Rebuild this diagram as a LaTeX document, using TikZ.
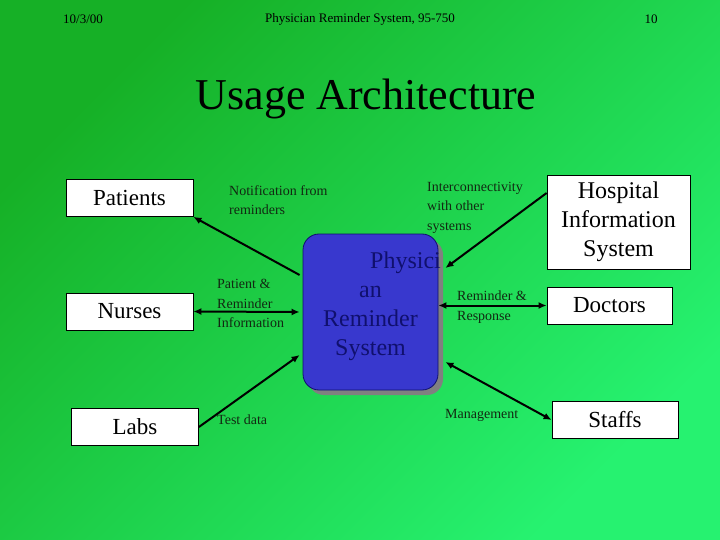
\documentclass[tikz,border=0pt]{standalone}
\usepackage{fontspec}
\setmainfont{Liberation Serif}
\usetikzlibrary{arrows.meta,positioning,shadows}
\definecolor{BgDark}{RGB}{22,176,38}
\definecolor{BgLight}{RGB}{38,242,112}
\definecolor{CoreBlue}{RGB}{56,56,206}
\definecolor{CoreText}{RGB}{16,16,110}
\definecolor{LabelInk}{RGB}{18,40,18}
\tikzset{
  actor/.style={draw=black,fill=white,line width=0.8pt,minimum width=127pt,
    minimum height=37pt,align=center,inner sep=2pt,
    font=\fontsize{23}{28}\selectfont},
  core/.style={draw=CoreText,fill=CoreBlue,line width=0.8pt,rounded corners=16pt,
    minimum width=135pt,minimum height=156pt,
    drop shadow={shadow xshift=5pt,shadow yshift=-5pt,fill=gray,opacity=1}},
  coretext/.style={align=center,text=CoreText,font=\fontsize{24}{29}\selectfont},
  note/.style={anchor=north west,align=left,inner sep=0pt,text=LabelInk,
    font=\fontsize{14}{19.5}\selectfont},
  link/.style={-{Latex[length=8pt,width=7pt]},line width=2pt},
  both/.style={{Latex[length=8pt,width=7pt]}-{Latex[length=8pt,width=7pt]},line width=2pt}
}

\begin{document}
\begin{tikzpicture}[x=1pt,y=-1pt]

% Background
\shade[top color=BgDark,bottom color=BgLight,shading angle=45]
  (0,0) rectangle (720,540);
\useasboundingbox (0,0) rectangle (720,540);

% Header
\node[font=\fontsize{13}{15}\selectfont] (date) at (83,19) {10/3/00};
\node[font=\fontsize{13}{15}\selectfont] (head) at (360,19) {Physician Reminder System, 95-750};
\node[font=\fontsize{13}{15}\selectfont] (page) at (651,19) {10};

% Title
\node[font=\fontsize{44}{50}\selectfont] (title) at (366,99) {Usage Architecture};

% Core system
\node[core] (sys) at (370.5,312) {};
\node[coretext] (systext) at ([yshift=6pt]sys.center) {\hspace*{70pt}Physici\\an\\Reminder\\System};

% Actors
\node[actor] (patients) at (129.5,198) {Patients};
\node[actor] (nurses) at (129.5,311.5) {Nurses};
\node[actor] (labs) at (135,427) {Labs};
\node[actor,minimum width=143pt,minimum height=94pt,
  font=\fontsize{24}{29}\selectfont] (his) at (618.5,222) {Hospital\\Information\\System};
\node[actor,minimum width=125pt] (doctors) at (609.5,305.5) {Doctors};
\node[actor,minimum width=126pt] (staffs) at (615,420) {Staffs};

% Links
\draw[link] ([xshift=-3pt,yshift=37pt]sys.west) -- (patients.south east);
\draw[both] (nurses.east) -- ([xshift=-3pt]sys.west);
\draw[link] (labs.east) -- ([xshift=-3pt,yshift=-43pt]sys.west);
\draw[link] (his.west |- 0,193) -- ([xshift=7pt,yshift=44pt]sys.east);
\draw[both] ([yshift=6.5pt]sys.east) -- (doctors.west);
\draw[both] ([xshift=7pt,yshift=-50pt]sys.east) -- (staffs.west);

% Labels
\node[note] (n1) at (229,185) {Notification from\\reminders};
\node[note] (n2) at (217,279) {Patient \&\\Reminder\\Information};
\node[note] (n3) at (217,415) {Test data};
\node[note] (n4) at (427,182) {Interconnectivity\\with other\\systems};
\node[note] (n5) at (457,291) {Reminder \&\\Response};
\node[note] (n6) at (445,409) {Management};

\end{tikzpicture}
\end{document}
